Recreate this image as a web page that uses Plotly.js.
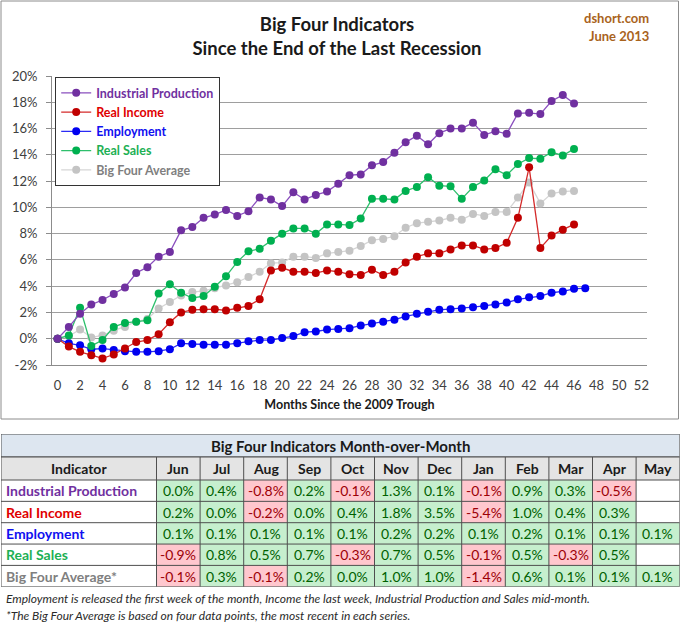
<!DOCTYPE html>
<html>
<head>
<meta charset="utf-8">
<script src="https://cdn.plot.ly/plotly-3.0.1.min.js"></script>
<style>
  html, body { margin: 0; padding: 0; background: #fff; }
  #chart { width: 680px; height: 622px; }
</style>
</head>
<body>
<div id="chart"></div>
<script>
// ---------- Chart data (cumulative % change since June 2009 trough) ----------
const industrialProduction = [0, 0.9, 1.9, 2.6, 2.95, 3.4, 3.9, 5.0, 5.45, 6.25, 6.6, 8.25, 8.5, 9.2, 9.45, 9.8, 9.35, 9.7, 10.75, 10.6, 10.1, 11.15, 10.6, 10.95, 11.2, 11.8, 12.45, 12.5, 13.2, 13.45, 14.15, 14.95, 15.45, 14.8, 15.65, 16.0, 16.0, 16.45, 15.5, 15.8, 15.6, 17.15, 17.2, 17.1, 18.1, 18.55, 17.9];
const realIncome = [0, -0.6, -1.0, -1.25, -1.5, -1.2, -0.75, -0.25, -0.1, 0.35, 1.25, 2.0, 2.2, 2.25, 2.25, 2.15, 2.35, 2.5, 3.0, 5.2, 5.4, 5.1, 5.1, 5.0, 5.2, 5.1, 4.9, 4.85, 5.25, 4.85, 5.1, 5.8, 6.25, 6.5, 6.5, 6.8, 7.1, 7.1, 6.8, 6.9, 7.3, 9.2, 13.05, 6.9, 7.85, 8.3, 8.7];
const employment = [0, -0.35, -0.5, -0.8, -0.75, -0.85, -0.95, -1.0, -1.0, -0.95, -0.8, -0.35, -0.4, -0.45, -0.45, -0.45, -0.35, -0.2, -0.1, -0.1, 0.05, 0.2, 0.5, 0.55, 0.7, 0.75, 0.8, 1.0, 1.15, 1.3, 1.45, 1.7, 1.9, 2.05, 2.2, 2.25, 2.3, 2.4, 2.5, 2.6, 2.75, 3.0, 3.15, 3.25, 3.5, 3.6, 3.8, 3.85];
const realSales = [0, 0.25, 2.35, -0.55, -0.1, 0.9, 1.2, 1.3, 1.4, 3.45, 4.15, 3.5, 3.1, 3.25, 3.95, 4.75, 5.85, 6.65, 6.85, 7.45, 8.0, 8.4, 8.4, 8.0, 8.7, 8.7, 8.65, 9.15, 10.65, 10.65, 10.6, 11.25, 11.55, 12.3, 11.65, 11.6, 10.65, 11.55, 12.05, 12.9, 12.45, 13.3, 13.75, 13.7, 14.2, 13.95, 14.45];
const bigFourAverage = [0, 0.2, 0.7, 0.1, 0.25, 0.6, 0.9, 1.3, 1.5, 2.3, 2.8, 3.3, 3.55, 3.65, 3.85, 4.05, 4.3, 4.7, 5.1, 5.75, 5.8, 6.25, 6.25, 6.15, 6.5, 6.6, 6.7, 7.05, 7.5, 7.6, 7.8, 8.45, 8.8, 8.9, 9.0, 9.2, 9.05, 9.5, 9.35, 9.65, 9.65, 10.75, 11.9, 10.3, 11.05, 11.2, 11.25];

const seriesNames = ["Industrial Production", "Real Income", "Employment", "Real Sales", "Big Four Average"];

// ---------- Axis tick labels ----------
const xTickVals = [0, 2, 4, 6, 8, 10, 12, 14, 16, 18, 20, 22, 24, 26, 28, 30, 32, 34, 36, 38, 40, 42, 44, 46, 48, 50, 52];
const yTickVals = [-2, 0, 2, 4, 6, 8, 10, 12, 14, 16, 18, 20];
const yTickText = ["-2%", "0%", "2%", "4%", "6%", "8%", "10%", "12%", "14%", "16%", "18%", "20%"];

// ---------- Table data (month-over-month % change) ----------
const tableMonths = ["Jun", "Jul", "Aug", "Sep", "Oct", "Nov", "Dec", "Jan", "Feb", "Mar", "Apr", "May"];
const momIndustrialProduction = [0.0, 0.4, -0.8, 0.2, -0.1, 1.3, 0.1, -0.1, 0.9, 0.3, -0.5, null];
const momRealIncome = [0.2, 0.0, -0.2, 0.0, 0.4, 1.8, 3.5, -5.4, 1.0, 0.4, 0.3, null];
const momEmployment = [0.1, 0.1, 0.1, 0.1, 0.1, 0.2, 0.2, 0.1, 0.2, 0.1, 0.1, 0.1];
const momRealSales = [-0.9, 0.8, 0.5, 0.7, -0.3, 0.7, 0.5, -0.1, 0.5, -0.3, 0.5, null];
const momBigFourAverage = [-0.1, 0.3, -0.1, 0.2, 0.0, 1.0, 1.0, -1.4, 0.6, 0.1, 0.1, 0.1];
const tableRowLabels = ["Industrial Production", "Real Income", "Employment", "Real Sales", "Big Four Average*"];
const tableHeaderLabel = "Indicator";
const tableTitle = "Big Four Indicators Month-over-Month";

// ---------- Styling ----------
const W = 680, H = 622;
const FONT = "Lato, 'Open Sans', sans-serif";
const colPurple = "#7030A0", colRed = "#C00000", colBlue = "#0000F0", colGreen = "#00B050", colGray = "#C4C4C4";
const nameColors = ["#7030A0", "#E00000", "#1010F0", "#1DB054", "#7F7F7F"];
const px = x => x / W;
const py = y => 1 - y / H;

function lineTrace(vals, name, color, lineColor, rank) {
  return {
    type: "scatter", mode: "lines+markers",
    x: vals.map((_, i) => i), y: vals,
    xaxis: "x", yaxis: "y",
    name: '<span style="color:' + nameColors[rank] + '"><b>' + name + '</b></span>',
    legendrank: rank + 1,
    line: { color: lineColor, width: 1.3 },
    marker: { color: color, size: 8, symbol: "circle" },
    hoverinfo: "x+y"
  };
}

const traces = [
  lineTrace(bigFourAverage, seriesNames[4], colGray, "#D6D6D6", 4),
  lineTrace(employment, seriesNames[2], colBlue, "#2B2BF5", 2),
  lineTrace(realIncome, seriesNames[1], colRed, "#D42A2A", 1),
  lineTrace(realSales, seriesNames[3], colGreen, "#2EBF6C", 3),
  lineTrace(industrialProduction, seriesNames[0], colPurple, "#8A4FBE", 0)
];

// ---------- Table built as a heatmap on its own axes ----------
const nameColWidth = 155.5, monthColWidth = 43.6;
const titleRowH = 23, headerRowH = 23, dataRowH = 21.35;
const xEdges = [0];
[nameColWidth].concat(tableMonths.map(() => monthColWidth)).forEach(w => xEdges.push(xEdges[xEdges.length - 1] + w));
const yEdges = [titleRowH, titleRowH + headerRowH];
tableRowLabels.forEach(() => yEdges.push(yEdges[yEdges.length - 1] + dataRowH));
const tableW = xEdges[xEdges.length - 1];
const tableH = yEdges[yEdges.length - 1];
const xMid = i => (xEdges[i] + xEdges[i + 1]) / 2;
const yMid = i => (yEdges[i] + yEdges[i + 1]) / 2;

const momRows = [momIndustrialProduction, momRealIncome, momEmployment, momRealSales, momBigFourAverage];
const fmt = v => (v === null ? "" : v.toFixed(1) + "%");
// z codes: 0 = blank/white, 1 = good (green), 2 = bad (red), 3 = header
const zTable = [[3].concat(tableMonths.map(() => 3))];
momRows.forEach(r => zTable.push([0].concat(r.map(v => v === null ? 0 : (v < 0 ? 2 : 1)))));

traces.push({
  type: "heatmap", xaxis: "x2", yaxis: "y2",
  x: xEdges, y: yEdges, z: zTable,
  zmin: 0, zmax: 3, showscale: false, hoverinfo: "skip",
  colorscale: [[0, "#FFFFFF"], [0.1667, "#FFFFFF"], [0.1667, "#C6EFCE"], [0.5, "#C6EFCE"],
               [0.5, "#FFC7CE"], [0.8333, "#FFC7CE"], [0.8333, "#E4E4E4"], [1, "#E4E4E4"]]
});

const tableAnnotations = [];
tableAnnotations.push({ text: "<b>" + tableTitle + "</b>", xref: "x2", yref: "y2", x: tableW / 2, y: titleRowH / 2,
  xanchor: "center", yanchor: "middle", showarrow: false, font: { family: FONT, size: 15, color: "#1A1A1A" } });
tableAnnotations.push({ text: "<b>" + tableHeaderLabel + "</b>", xref: "x2", yref: "y2", x: xMid(0), y: yMid(0),
  xanchor: "center", yanchor: "middle", showarrow: false, font: { family: FONT, size: 14, color: "#1A1A1A" } });
tableMonths.forEach((m, j) => tableAnnotations.push({ text: "<b>" + m + "</b>", xref: "x2", yref: "y2", x: xMid(j + 1), y: yMid(0),
  xanchor: "center", yanchor: "middle", showarrow: false, font: { family: FONT, size: 14, color: "#1A1A1A" } }));
tableRowLabels.forEach((n, i) => {
  tableAnnotations.push({ text: "<b>" + n + "</b>", xref: "x2", yref: "y2", x: 3, y: yMid(i + 1),
    xanchor: "left", yanchor: "middle", showarrow: false, font: { family: FONT, size: 14, color: nameColors[i] } });
  momRows[i].forEach((v, j) => {
    if (v === null) return;
    tableAnnotations.push({ text: fmt(v), xref: "x2", yref: "y2", x: xMid(j + 1), y: yMid(i + 1),
      xanchor: "center", yanchor: "middle", showarrow: false,
      font: { family: FONT, size: 14, color: v < 0 ? "#9C0006" : "#006100" } });
  });
});

const tableLine = { color: "#4F4F4F", width: 1 };
const tableShapes = [
  { type: "rect", xref: "x2", yref: "y2", x0: 0, x1: tableW, y0: 0, y1: titleRowH, line: tableLine, fillcolor: "#DDE6F0", layer: "below" }
];
xEdges.forEach(x => tableShapes.push({ type: "line", xref: "x2", yref: "y2", x0: x, x1: x, y0: titleRowH, y1: tableH, line: tableLine, layer: "above" }));
yEdges.forEach(y => tableShapes.push({ type: "line", xref: "x2", yref: "y2", x0: 0, x1: tableW, y0: y, y1: y, line: tableLine, layer: "above" }));

const layout = {
  width: W, height: H,
  margin: { l: 0, r: 0, t: 0, b: 0, pad: 0 },
  paper_bgcolor: "#FFFFFF", plot_bgcolor: "#FFFFFF",
  font: { family: FONT, size: 13, color: "#404040" },
  title: {
    text: "Big Four Indicators<br>Since the End of the Last Recession",
    font: { family: FONT, size: 18.5, color: "#1A1A1A", weight: 700 },
    x: px(337), xanchor: "center", xref: "container",
    y: py(31), yanchor: "middle", yref: "container"
  },
  showlegend: true,
  legend: {
    x: px(55), y: py(77), xanchor: "left", yanchor: "top",
    bgcolor: "#FFFFFF", bordercolor: "#333333", borderwidth: 1.2,
    font: { family: FONT, size: 12.5 },
    itemwidth: 30, traceorder: "normal"
  },
  xaxis: {
    domain: [px(52), px(647)],
    range: [-0.5, 52.5],
    tickvals: xTickVals,
    showgrid: false, zeroline: false,
    showline: true, linecolor: "#8C8C8C", linewidth: 1,
    ticks: "", ticklabelstandoff: 8,
    tickfont: { family: FONT, size: 13, color: "#404040" },
    title: { text: "Months Since the 2009 Trough", font: { family: FONT, size: 12.5, color: "#1A1A1A", weight: 700 }, standoff: 8 },
    fixedrange: true
  },
  yaxis: {
    domain: [py(365), py(76)],
    range: [-2, 20],
    tickvals: yTickVals, ticktext: yTickText,
    showgrid: true, gridcolor: "#9E9E9E", gridwidth: 1,
    zeroline: false,
    showline: true, linecolor: "#8C8C8C", linewidth: 1,
    ticks: "outside", ticklen: 5, tickcolor: "#8C8C8C", ticklabelstandoff: 6,
    tickfont: { family: FONT, size: 13, color: "#404040" },
    fixedrange: true
  },
  xaxis2: {
    domain: [px(1), px(1) + tableW / W], range: [0, tableW], anchor: "y2",
    visible: false, showgrid: false, zeroline: false, fixedrange: true
  },
  yaxis2: {
    domain: [py(434) - tableH / H, py(434)], range: [tableH, 0], anchor: "x2",
    visible: false, showgrid: false, zeroline: false, fixedrange: true
  },
  shapes: [
    // chart frame
    { type: "rect", xref: "paper", yref: "paper", x0: px(1), x1: px(678.5), y0: py(419), y1: py(1),
      line: { color: "#8C8C8C", width: 1 }, fillcolor: "rgba(0,0,0,0)", layer: "below" },
    // legend shadow
    { type: "rect", xref: "paper", yref: "paper", x0: px(58), x1: px(218), y0: py(183), y1: py(80),
      line: { width: 0 }, fillcolor: "rgba(90,90,90,0.45)", layer: "above" }
  ].concat(tableShapes),
  annotations: [
    { text: "<b>dshort.com</b>", xref: "paper", yref: "paper", x: px(651), y: py(18), xanchor: "right", yanchor: "middle",
      showarrow: false, font: { family: FONT, size: 13, color: "#A9631C" } },
    { text: "<b>June 2013</b>", xref: "paper", yref: "paper", x: px(651), y: py(36), xanchor: "right", yanchor: "middle",
      showarrow: false, font: { family: FONT, size: 13, color: "#A9631C" } },
    { text: "<i>Employment is released the first week of the month, Income the last week, Industrial Production and Sales mid-month.</i>",
      xref: "paper", yref: "paper", x: px(4), y: py(598), xanchor: "left", yanchor: "middle", showarrow: false,
      font: { family: FONT, size: 12, color: "#2A2A2A" } },
    { text: "<i>*The Big Four Average is based on four data points, the most recent in each series.</i>",
      xref: "paper", yref: "paper", x: px(4), y: py(615), xanchor: "left", yanchor: "middle", showarrow: false,
      font: { family: FONT, size: 12, color: "#2A2A2A" } }
  ].concat(tableAnnotations)
};

Plotly.newPlot("chart", traces, layout, { displayModeBar: false });
</script>
</body>
</html>
